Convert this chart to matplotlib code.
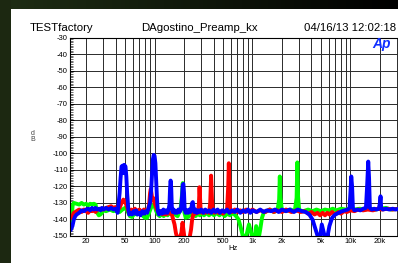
import numpy as np
import matplotlib
matplotlib.use('Agg')
import matplotlib.pyplot as plt

plt.rcParams['font.family'] = ['Liberation Sans', 'DejaVu Sans']
plt.rcParams['axes.unicode_minus'] = False

blue_hz = [14, 14.5, 15, 15.5, 16, 17, 18, 19, 20, 21, 22, 23, 24, 25, 26, 27, 28, 29, 30, 32, 34, 36, 38, 40,
           42, 43, 44, 45, 46, 47, 48, 49, 50.5, 51.5, 52.5, 54, 55, 57, 59, 61, 63, 65, 67, 70, 72, 75, 78, 81,
           84, 87, 90, 92, 94, 96, 98, 100, 102, 104, 106, 108, 111, 115, 119, 123, 127, 131, 135, 139, 142, 144,
           146, 148, 150, 153, 157, 161, 165, 170, 175, 180, 186, 190, 194, 197, 200, 203, 208, 214, 220, 226,
           232, 238, 242, 246, 250, 255, 262, 270, 280, 290, 300, 315, 330, 345, 360, 380, 400, 420, 440, 465,
           490, 520, 550, 580, 620, 660, 700, 750, 800, 850, 900, 950, 1000, 1100, 1200, 1300, 1400, 1550, 1700,
           1850, 2000, 2200, 2400, 2650, 2900, 3200, 3500, 3800, 4100, 4400, 4650, 4900, 5100, 5300, 5500, 5800,
           6100, 6500, 7000, 7600, 8200, 8800, 9400, 9800, 10000, 10200, 10400, 10600, 11000, 11800, 12600,
           13500, 14400, 14800, 15200, 15500, 15800, 16500, 17500, 18500, 19500, 20000, 20300, 20600, 21500,
           23000, 25000, 27000, 29000, 31000]
blue_db = [-146, -144, -140, -138, -137, -136, -134.5, -135, -134, -133.5, -134.5, -133, -134, -133, -134, -133.5,
           -134.5, -133, -134, -133, -134, -133, -134, -133.5,
           -136, -130, -124, -115, -108, -107.5, -112, -107, -108, -114, -124, -134, -137, -136, -137, -135,
           -136.5, -134.5, -137, -136, -137.5, -135, -136.5, -135,
           -136, -133, -130, -124, -114, -104, -101, -101.5, -106, -117, -128, -135, -137, -135, -136.5, -134,
           -136, -134.5, -136, -134, -131, -121,
           -116.5, -121, -132, -135.5, -134, -136, -135, -136, -134, -135.5, -134, -128, -119, -118.5, -124,
           -134, -136, -134.5, -136, -134,
           -135.5, -133, -130, -129.5, -133, -135.5, -134, -136, -134.5, -135.5, -134, -136, -134, -135.5,
           -134.5, -136, -134, -135.5, -134, -136,
           -134.5, -135.5, -134, -136, -134.5, -135.5, -134, -136, -134.5, -135.5, -134, -136, -134.5, -135.5,
           -134, -135.5, -134.5, -135, -134,
           -135.5, -134, -135, -134, -135.5, -134, -135, -135.5, -137, -140, -146, -150.5, -151, -143, -147,
           -151, -151,
           -144, -139, -137, -136, -135, -134.5, -134, -133, -124, -114, -120, -133, -134.5, -134, -134.5,
           -133.5, -133, -120, -105, -115, -133, -134, -133.5, -134, -133.5, -130, -126, -133, -134,
           -133.5, -134, -133.5, -134, -133.5]

red_hz = [14, 14.5, 15, 16, 17, 18, 19, 20, 21, 22, 23, 24, 25, 26, 28, 30, 32, 34, 36, 38, 40, 42, 44, 46,
          48, 50, 52, 54, 56, 58, 60, 63, 66, 70, 74, 78, 82, 86, 88, 90, 91.5, 93, 95, 97, 100, 104, 108,
          112, 116, 121, 126, 131, 136, 141, 146, 150, 155, 160, 165, 170, 180, 188, 193, 197, 202, 215, 228,
          236, 242, 248, 255, 262, 270, 278, 284, 288, 292, 296, 305, 318, 330, 345, 360, 370, 378, 386, 394,
          410, 430, 450, 475, 500, 525, 550, 565, 573, 581, 590, 620, 660, 700, 750, 800, 860, 920, 1000, 1100,
          1200, 1350, 1500, 1650, 1800, 2000, 2200, 2500, 2800, 3100, 3400, 3700, 4000, 4300, 4600, 4900,
          5200, 5500, 5800, 6100, 6500, 7000, 7500, 8000, 8600, 9200, 10000, 11000, 12000, 13500, 15000,
          17000, 19000, 21000, 24000, 27000, 31000]
red_db = [-139, -138, -136, -135, -134, -135.5, -134, -135, -136, -134.5, -135, -134, -135.5, -134, -133.5,
          -134, -133, -132.5, -132, -133, -132.5, -134, -133, -130,
          -128, -129, -132, -135, -136, -134, -135, -133.5, -135, -134, -135.5, -134, -135, -134, -131, -124,
          -121.5, -124, -128, -127, -130, -133, -135,
          -136.5, -135, -137, -135.5, -137, -135, -136.5, -136, -137, -140, -143, -148, -151, -151.5, -148,
          -142, -146, -151, -151.5, -151,
          -146, -140, -137, -135.5, -136.5, -135, -136, -130, -120.5, -128, -135, -136, -134.5, -136, -135,
          -136, -130, -113.5, -128, -135.5,
          -136, -134.5, -136, -135, -136.5, -135, -134, -120, -106, -118, -134, -135.5, -134, -135.5, -134.5,
          -135.5, -134, -135.5, -134, -135.5,
          -134.5, -135.5, -134, -135.5, -134.5, -135.5, -134, -135.5, -134.5, -135.5, -135, -136.5, -135.5,
          -137, -136, -137.5,
          -136, -137.5, -136, -137, -135.5, -137, -135.5, -136.5, -135, -135.5, -134.5, -135, -134, -134.5,
          -134, -134.5, -133.5, -134, -133.5, -134, -133.5]

green_hz = [13.8, 14.2, 14.6, 15, 16, 17, 18, 19, 20, 21, 22, 23, 24, 25, 26, 27, 28, 29, 30, 32, 35, 38, 41,
            44, 47, 50, 53, 56, 59, 62, 66, 70, 75, 80, 84, 88, 92, 96, 100, 104, 108, 113, 118, 124, 130,
            136, 142, 148, 155, 160, 166, 172, 178, 184, 190, 194, 198, 202, 208, 215, 222, 230, 240, 250, 262,
            275, 290, 305, 320, 340, 360, 380, 405, 430, 460, 490, 520, 550, 590, 630, 680, 720, 760, 800, 840,
            880, 920, 960, 1000, 1050, 1090, 1120, 1160, 1200, 1250, 1300, 1400, 1500, 1650, 1800, 1870, 1900,
            1930, 2000, 2200, 2450, 2700, 2820, 2870, 2920, 3000, 3300, 3700, 4100, 4500, 5000, 5500, 6000,
            6600, 7200, 8000, 9000, 10000, 11000, 12500, 14000, 16000, 18000, 20000, 23000, 26000, 31000]
green_db = [-144, -140, -131, -130, -130.5, -131, -130, -131, -130.5, -131.5, -130.5, -131, -130.5, -131,
            -136, -137.5, -137, -136, -134.5, -135, -134, -135, -134.5,
            -135.5, -134, -133, -135, -138, -138.5, -136.5, -137, -136, -137.5, -139, -139, -136, -133, -131,
            -132, -135, -137, -138, -136.5, -138, -136,
            -137.5, -135.5, -136, -137, -135, -137.5, -138, -136, -134, -126, -118, -125, -136, -139, -137,
            -138.5, -136, -137.5, -136, -138,
            -136.5, -137.5, -136, -137.5, -136, -137.5, -136, -137.5, -136, -137.5, -136, -138, -136.5, -137.5,
            -136, -138, -140, -145, -150.5, -151.5,
            -148, -143, -147, -151.5, -151, -144, -147, -151, -146, -139, -136, -135, -134, -135.5, -134.5,
            -128, -114,
            -127, -134.5, -135, -134, -135, -127, -105.5, -126, -134.5, -135, -134, -135, -134, -135, -134,
            -134.5,
            -133.5, -134.5, -133.5, -134, -133.5, -134, -133.5, -134, -133.5, -134, -133.5, -133, -134, -133.5]

grid_hz = [20, 30, 40, 50, 60, 70, 80, 90, 100, 200, 300, 400, 500, 600, 700, 800, 900,
           1000, 2000, 3000, 4000, 5000, 6000, 7000, 8000, 9000, 10000, 20000, 30000]
label_hz = [20, 50, 100, 200, 500, 1000, 2000, 5000, 10000, 20000]
label_txt = ['20', '50', '100', '200', '500', '1k', '2k', '5k', '10k', '20k']
db_ticks = list(range(-150, -29, 10))

## figure ##

fig = plt.figure(figsize=(3.98, 2.63), dpi=100)
fig.patch.set_facecolor('white')

# dark frame strips (left + top)
bg = fig.add_axes([0, 0, 1, 1])
bg.axis('off')
img = np.ones((263, 398, 3))
img[:, :11] = [0.11, 0.16, 0.07]
fade = np.linspace(1, 0, 398)
img[:9, :, 0] = 0.12 * fade
img[:9, :, 1] = 0.18 * fade
img[:9, :, 2] = 0.08 * fade
img[:9, :11] = [0.11, 0.16, 0.07]
bg.imshow(img, aspect='auto', extent=(0, 1, 0, 1), interpolation='nearest')
bg.set_xlim(0, 1)
bg.set_ylim(0, 1)

ax = fig.add_axes([70 / 398, 27 / 263, 328 / 398, 198.5 / 263])
ax.set_xscale('log')
ax.set_xlim(13.7, 30600)
ax.set_ylim(-150, -30)

ax.plot(green_hz, green_db, color='#00ff00', lw=2.8, solid_joinstyle='round')
ax.plot(red_hz, red_db, color='#ff0000', lw=2.8, solid_joinstyle='round')
ax.plot(blue_hz, blue_db, color='#0000ff', lw=2.8, solid_joinstyle='round')

ax.set_xticks(label_hz)
ax.set_xticklabels(label_txt, fontsize=5.5)
ax.set_xticks(grid_hz, minor=True)
ax.xaxis.set_minor_formatter(matplotlib.ticker.NullFormatter())
ax.tick_params(axis='x', which='both', length=0, pad=1.5)

ax.set_yticks(db_ticks)
ax.set_yticklabels([str(v) for v in db_ticks], fontsize=5.5)
ax.set_yticks(range(-150, -29, 1), minor=True)
ax.tick_params(axis='y', which='major', direction='in', length=3, width=0.6, pad=1.5)
ax.tick_params(axis='y', which='minor', direction='in', length=2, width=0.4)

ax.grid(True, which='major', axis='y', color='#2a2a2a', lw=0.7)
ax.grid(True, which='both', axis='x', color='#2a2a2a', lw=0.7)
ax.set_axisbelow(True)
ax.spines['right'].set_visible(False)
for s in ['left', 'top', 'bottom']:
    ax.spines[s].set_color('black')
    ax.spines[s].set_linewidth(0.8)

fig.text(30 / 398, 0.893, 'TESTfactory', fontsize=8.2, ha='left', va='center')
fig.text(199 / 398, 0.893, 'DAgostino_Preamp_kx', fontsize=8.2, ha='center', va='center')
fig.text(396.5 / 398, 0.893, '04/16/13 12:02:18', fontsize=8.2, ha='right', va='center')
fig.text(382 / 398, 0.831, 'Ap', color='#1030ff', fontsize=10, fontweight='bold', style='italic',
         ha='center', va='center')
fig.text(33 / 398, (263 - 136.5) / 263, 'd\nB', fontsize=5, ha='center', va='center', linespacing=0.9,
         color='#444444')
fig.text(233 / 398, (263 - 248) / 263, 'Hz', fontsize=5.5, ha='center', va='center')

fig.savefig('out.png', dpi=100)
